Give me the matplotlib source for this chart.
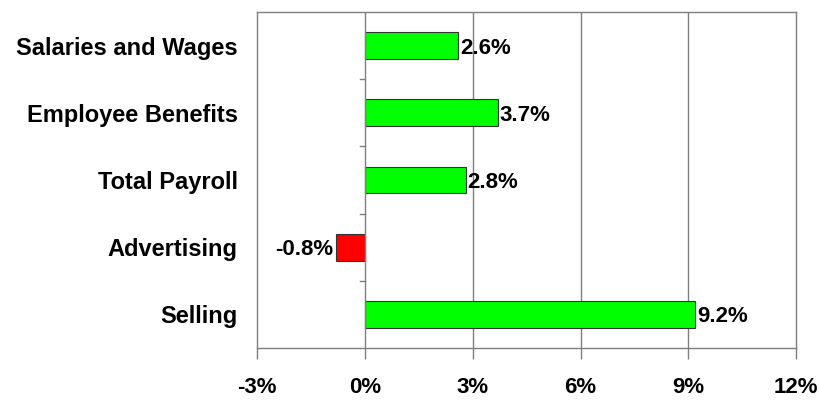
import matplotlib
matplotlib.use("Agg")
import matplotlib.pyplot as plt

plt.rcParams['font.family'] = ['Liberation Sans', 'DejaVu Sans']

categories = ["Salaries and Wages", "Employee Benefits", "Total Payroll", "Advertising", "Selling"]
values = [2.6, 3.7, 2.8, -0.8, 9.2]
x_ticks = [-3, 0, 3, 6, 9, 12]
x_labels = ["-3%", "0%", "3%", "6%", "9%", "12%"]

fig = plt.figure(figsize=(8.19, 4.01), dpi=100)
ax = fig.add_axes([0.314, 0.132, 0.658, 0.838])

pos = list(range(len(categories)))
colors = ["#00ff00" if v >= 0 else "#ff0000" for v in values]
ax.barh(pos, values, height=0.4, color=colors, edgecolor="#333333", linewidth=0.8, zorder=3)

ax.set_xlim(-3, 12)
ax.set_ylim(len(categories) - 0.5, -0.5)

# vertical gridlines
for x in [3, 6, 9]:
    ax.axvline(x, color="#7f7f7f", linewidth=1.0, zorder=1)
# the zero line acts as the category axis
ax.axvline(0, color="#7f7f7f", linewidth=1.0, zorder=4)
for b in [i + 0.5 for i in range(len(categories) - 1)]:
    ax.plot([-0.15, 0], [b, b], color="#7f7f7f", linewidth=1.0, zorder=4, clip_on=False)

for s in ax.spines.values():
    s.set_color("#7f7f7f")
    s.set_linewidth(1.0)

ax.set_xticks(x_ticks)
ax.set_xticklabels(x_labels, fontsize=16, fontweight="bold")
ax.tick_params(axis="x", direction="out", length=8, width=1, color="#7f7f7f", pad=13)

ax.set_yticks(pos)
ax.set_yticklabels(categories, fontsize=17, fontweight="bold")
ax.tick_params(axis="y", length=0, pad=14)

for p, v in zip(pos, values):
    label = f"{v:.1f}%"
    if v >= 0:
        ax.text(v + 0.05, p, label, va="center_baseline", ha="left", fontsize=16, fontweight="bold", zorder=5)
    else:
        ax.text(v - 0.08, p, label, va="center_baseline", ha="right", fontsize=16, fontweight="bold", zorder=5)

fig.savefig("out.png", dpi=100)
